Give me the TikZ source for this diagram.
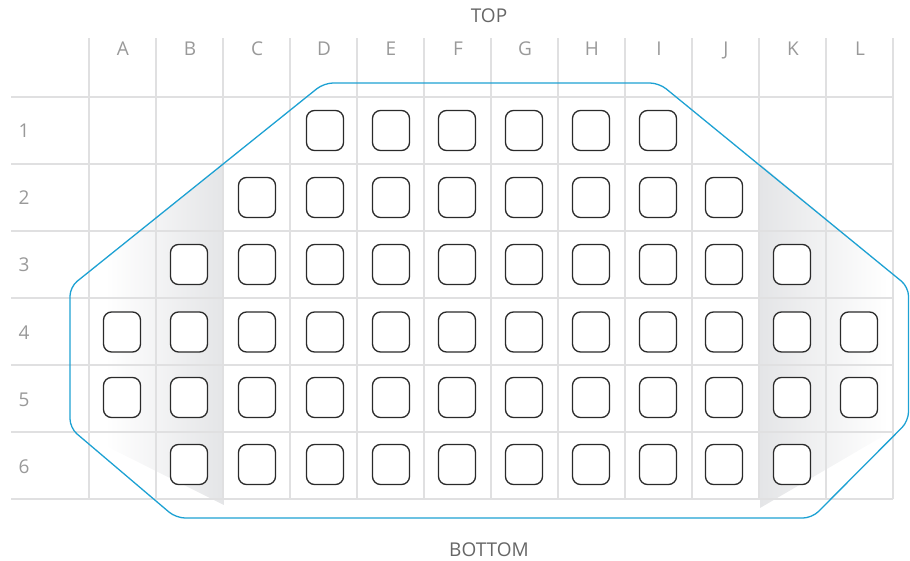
\documentclass[tikz,border=0pt]{standalone}
\usepackage{fontspec}
\setmainfont{Open Sans}
\definecolor{gridc}{HTML}{E0E0E1}
\definecolor{bluec}{HTML}{1DA1D3}
\definecolor{shgray}{HTML}{E4E5E7}
\definecolor{labc}{HTML}{999999}
\definecolor{titc}{HTML}{666666}
\definecolor{sqc}{HTML}{2A2A2A}
\tikzset{
  gridline/.style={draw=gridc, line width=1.6pt},
  plateoutline/.style={draw=bluec, line width=1.3pt, rounded corners=9pt},
  well/.style={draw=sqc, fill=white, line width=1.3pt, rounded corners=8pt,
    minimum width=37pt, minimum height=40pt, inner sep=0pt, outer sep=0pt},
  lab/.style={text=labc, font=\fontsize{19}{22}\selectfont, inner sep=0pt, anchor=base},
  titlelab/.style={text=titc, font=\fontsize{19}{22}\selectfont, inner sep=0pt, anchor=base}
}
\begin{document}
\begin{tikzpicture}[x=1pt,y=-1pt]
\useasboundingbox (0,0) rectangle (910,561);
% shading left
\begin{scope}
  \clip (70,287) -- (224,163) -- (224,505) -- (70,428) -- cycle;
  \shade[left color=white, right color=shgray] (105,150) rectangle (224,510);
\end{scope}
% shading right
\begin{scope}
  \clip (760,164) -- (909,287) -- (909,421) -- (760,508) -- cycle;
  \shade[left color=shgray, right color=white] (760,150) rectangle (888,510);
\end{scope}
% grid
\foreach \y in {97,164,231,298,365,432,499}
  \draw[gridline] (11,\y) -- (893,\y);
\foreach \i in {0,...,12}
  \draw[gridline] ({89+67*\i},38) -- ({89+67*\i},499);
% plate outline
\draw[plateoutline] (490,83) -- (659,83) -- (908.5,287) -- (908.5,421) -- (812,518)
  -- (176,518) -- (70,428) -- (70,287) -- (324,83) -- cycle;
% wells
\def\colx{{122,189,257,325,391,457,524,591,658,724,792,859}}
\foreach \r/\a/\b/\yc in {1/3/8/130.5, 2/2/9/197.5, 3/1/10/264.5, 4/0/11/332, 5/0/11/397.5, 6/1/10/464.5} {
  \foreach \c in {\a,...,\b} {
    \pgfmathsetmacro\xc{\colx[\c]}
    \node[well] (w\c-\r) at (\xc,\yc) {};
  }
}
% column labels
\foreach \L [count=\i from 0] in {A,B,C,D,E,F,G,H,I,J,K,L}
  \node[lab] (col\L) at ({123+67*\i},56) {\L};
% row labels
\foreach \r/\yc in {1/130.5, 2/197.5, 3/264.5, 4/331.5, 5/398.5, 6/465.5}
  \node[lab] (row\r) at (24,\yc+7.5) {\r};
\node[titlelab] (top) at (489,23) {TOP};
\node[titlelab] (bottom) at (489,556) {BOTTOM};
\end{tikzpicture}
\end{document}
